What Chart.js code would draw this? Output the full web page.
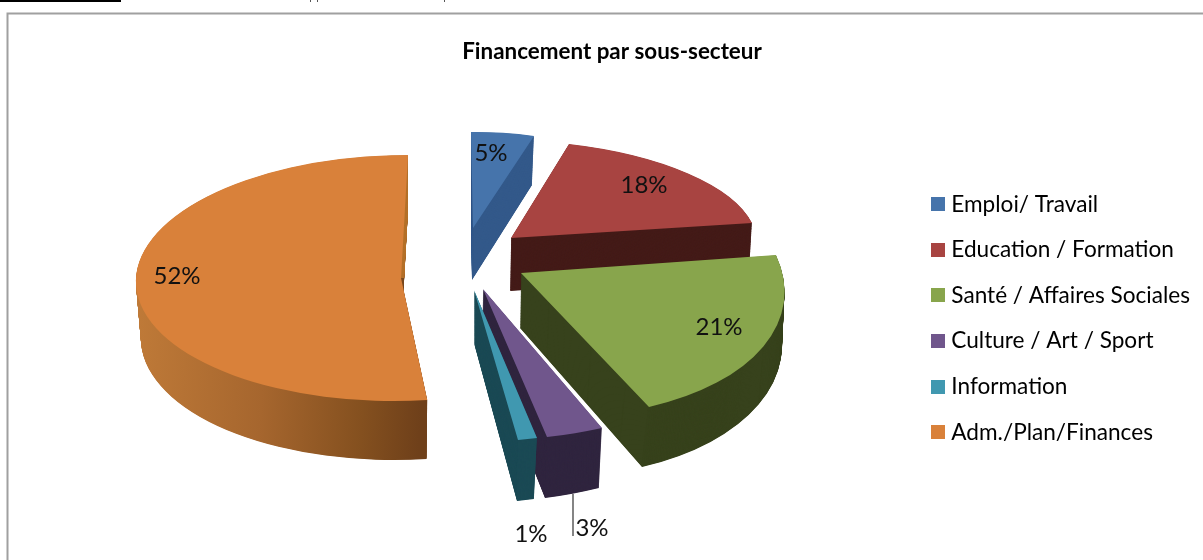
<!DOCTYPE html>
<html><head><meta charset="utf-8">
<style>html,body{margin:0;padding:0;background:#fff}canvas{display:block}</style>
<script src="https://cdn.jsdelivr.net/npm/chart.js@4"></script></head>
<body><div style="width:1203px;height:560px"><canvas id="c" width="1203" height="560"></canvas></div>
<script>
const categories = ['Emploi/ Travail','Education / Formation','Santé / Affaires Sociales','Culture / Art / Sport','Information','Adm./Plan/Finances'];
const shares = [5,18,21,3,1,52];
const topColors = ['#4674ab','#a84441','#88a54c','#70568c','#4098b0','#d9813a'];
const wallColors = ['#33598a','#441b18','#37421c','#30253f','#1b4a55','#b5722c'];

// projected geometry of each exploded slice: apex + the two rim corners, or apex + ellipse axes
const topFaces = [
  {a:[473,228],p1:[471,132],p2:[534,136]},
  {a:[511,238],p1:[569,144],p2:[752,223]},
  {a:[521,273],p1:[776,255],p2:[649,407]},
  {a:[483,289],p1:[602,428],p2:[547,437]},
  {a:[474,290],p1:[537,438],p2:[518,440]},
  {a:[401,278],U:[265,0],V:[-7,123]}
];
const bottomFaces = [
  {a:[472,280],p1:[471,184],p2:[532,185]},
  {a:[510,291],p1:[568,196],p2:[749,275]},
  {a:[520,328],p1:[775,310],p2:[642,467]},
  {a:[482,340],p1:[599,488],p2:[545,498]},
  {a:[474,343],p1:[534,499],p2:[517,501]},
  {a:[401,335],U:[260,0],V:[-7,125]}
];
const drawOrder = [0,1,5,2,3,4];
const labelPos = [[491,153],[644,185],[719,327],[592,528],[531,534],[177,276]];

function axes(f,a1,a2){
  if(f.U) return {A:f.a,U:f.U,V:f.V};
  const d1=[f.p1[0]-f.a[0],f.p1[1]-f.a[1]], d2=[f.p2[0]-f.a[0],f.p2[1]-f.a[1]];
  const det=Math.sin(a2-a1), s1=Math.sin(a1), s2=Math.sin(a2), c1=Math.cos(a1), c2=Math.cos(a2);
  return {A:f.a,
    U:[(d1[0]*s2-d2[0]*s1)/det,(d1[1]*s2-d2[1]*s1)/det],
    V:[(d2[0]*c1-d1[0]*c2)/det,(d2[1]*c1-d1[1]*c2)/det]};
}
const mix=(p,q,t)=>[p[0]+(q[0]-p[0])*t,p[1]+(q[1]-p[1])*t];
function drawFace(ctx,arc,g,fill){
  const R=arc.outerRadius;
  ctx.save();
  ctx.transform(g.U[0]/R,g.U[1]/R,g.V[0]/R,g.V[1]/R,g.A[0],g.A[1]);
  ctx.translate(-arc.x,-arc.y);
  const o=Object.create(arc.options);
  o.backgroundColor=typeof fill==='function'?fill(ctx):fill; o.borderWidth=0;
  const view=Object.create(arc); view.options=o;
  view.draw(ctx);
  ctx.restore();
}
function orangeGradient(ctx){
  const inv=ctx.getTransform().inverse();
  const s=inv.transformPoint(new DOMPoint(136,300)), e=inv.transformPoint(new DOMPoint(427,300));
  const gr=ctx.createLinearGradient(s.x,s.y,e.x,e.y);
  gr.addColorStop(0,'#bf7a38');gr.addColorStop(.45,'#a6662e');gr.addColorStop(.8,'#84501f');gr.addColorStop(1,'#6f401a');
  return gr;
}
const pie3d={
  id:'pie3d',
  beforeDatasetsDraw(chart){
    const ctx=chart.ctx, arcs=chart.getDatasetMeta(0).data;
    drawOrder.forEach(i=>{
      const arc=arcs[i];
      const t=axes(topFaces[i],arc.startAngle,arc.endAngle), b=axes(bottomFaces[i],arc.startAngle,arc.endAngle);
      const N=120;
      const layer=k=>({A:mix(b.A,t.A,k/N),U:mix(b.U,t.U,k/N),V:mix(b.V,t.V,k/N)});
      for(let k=0;k<N;k++) drawFace(ctx,arc,layer(k),i===5?orangeGradient:wallColors[i]);
      if(i===5){
        ctx.save();ctx.beginPath();ctx.rect(380,140,60,138);ctx.clip();
        for(let k=0;k<N;k+=2) drawFace(ctx,arc,layer(k),wallColors[i]);
        ctx.restore();
      }
      drawFace(ctx,arc,t,topColors[i]);
    });
    return false;
  },
  afterDraw(chart){
    const ctx=chart.ctx;
    ctx.save();
    // chart frame: the reference shows the left and top sides only
    ctx.strokeStyle='#a0a0a0';ctx.lineWidth=2;
    ctx.beginPath();ctx.moveTo(7.5,562);ctx.lineTo(7.5,13.5);ctx.lineTo(1205,13.5);ctx.stroke();
    // rule and descender traces of the page text above the frame
    ctx.fillStyle='#000';ctx.fillRect(0,0,121,2);
    ctx.fillStyle='#555';
    [310,317,444].forEach(x=>ctx.fillRect(x,0,1,2));
    // value labels
    ctx.font='24px Lato';ctx.fillStyle='#111';ctx.textAlign='center';ctx.textBaseline='middle';
    shares.forEach((v,i)=>ctx.fillText(v+'%',labelPos[i][0],labelPos[i][1]));
    // leader line
    ctx.strokeStyle='#333';ctx.lineWidth=1.2;
    ctx.beginPath();ctx.moveTo(573,494);ctx.lineTo(573,536);ctx.stroke();
    ctx.restore();
  }
};
function swatch(color){
  const c=document.createElement('canvas');c.width=14;c.height=14;
  const x=c.getContext('2d');x.fillStyle=color;x.fillRect(0,0,14,14);return c;
}
new Chart(document.getElementById('c'),{
  type:'pie',
  data:{labels:categories,datasets:[{data:shares,backgroundColor:topColors,borderWidth:0}]},
  options:{
    responsive:false,animation:false,
    layout:{padding:{left:24,right:3,top:0,bottom:0}},
    plugins:{
      tooltip:{enabled:false},
      title:{display:true,text:'Financement par sous-secteur',color:'#000',
        font:{family:'Lato',size:22.4,weight:'bold'},padding:{top:38,bottom:11.6}},
      legend:{position:'right',fullSize:false,
        labels:{font:{family:'Lato',size:22.6},color:'#111',padding:23,boxHeight:14,boxWidth:5,
          usePointStyle:true,pointStyleWidth:5,
          generateLabels(chart){
            return categories.map((t,i)=>({text:t,fillStyle:topColors[i],strokeStyle:topColors[i],lineWidth:0,
              pointStyle:swatch(topColors[i]),index:i,datasetIndex:0,hidden:false}));
          }}}
    }
  },
  plugins:[pie3d]
});
</script></body></html>
